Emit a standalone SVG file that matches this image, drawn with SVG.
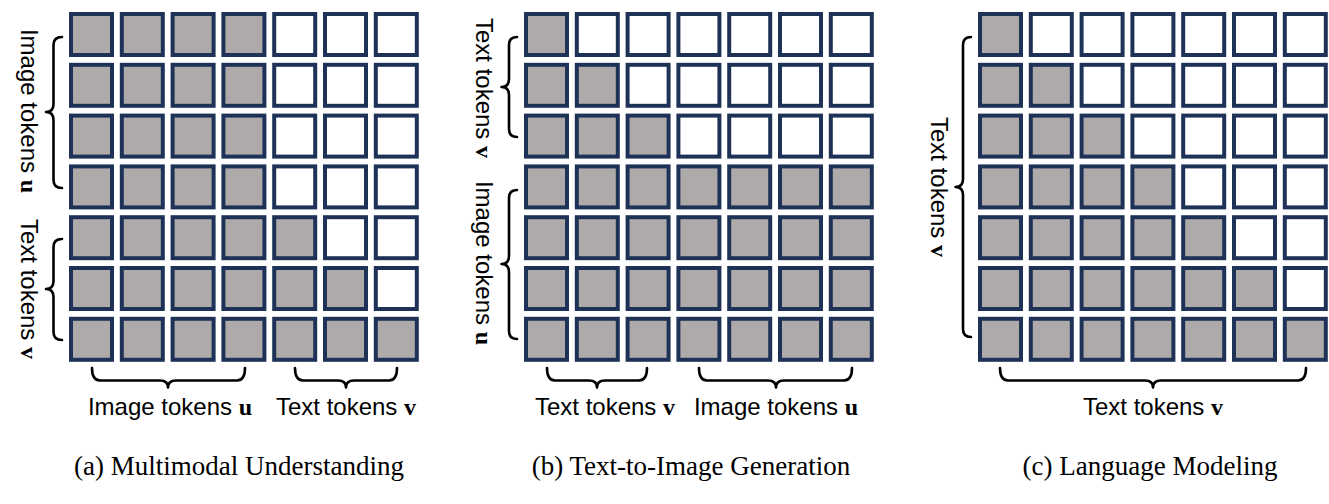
<svg xmlns="http://www.w3.org/2000/svg" xmlns:xlink="http://www.w3.org/1999/xlink" width="1329" height="504" viewBox="0 0 1329 504">
<style>
.g{fill:#AEAAAA;stroke:#1E3258;stroke-width:4}
.w{fill:#FFFFFF;stroke:#1E3258;stroke-width:4}
.br{fill:none;stroke:#000;stroke-width:2.6;stroke-linecap:round;stroke-linejoin:round}
.lb{font-family:"Liberation Sans",Arial,sans-serif;font-size:24px;fill:#000}
.b{font-family:"Liberation Serif","Times New Roman",serif;font-weight:bold}
.cap{font-family:"Liberation Serif","Times New Roman",serif;font-size:27px;fill:#000;text-anchor:middle}
</style>
<defs>
<rect id="c" width="41" height="41"/>
</defs>
<rect width="1329" height="504" fill="#fff"/>

<g id="panel-a">
<g transform="translate(71,14)">
<use href="#c" class="g" x="0" y="0"/><use href="#c" class="g" x="50.8" y="0"/><use href="#c" class="g" x="101.6" y="0"/><use href="#c" class="g" x="152.4" y="0"/><use href="#c" class="w" x="203.2" y="0"/><use href="#c" class="w" x="254" y="0"/><use href="#c" class="w" x="304.8" y="0"/>
<use href="#c" class="g" x="0" y="50.8"/><use href="#c" class="g" x="50.8" y="50.8"/><use href="#c" class="g" x="101.6" y="50.8"/><use href="#c" class="g" x="152.4" y="50.8"/><use href="#c" class="w" x="203.2" y="50.8"/><use href="#c" class="w" x="254" y="50.8"/><use href="#c" class="w" x="304.8" y="50.8"/>
<use href="#c" class="g" x="0" y="101.6"/><use href="#c" class="g" x="50.8" y="101.6"/><use href="#c" class="g" x="101.6" y="101.6"/><use href="#c" class="g" x="152.4" y="101.6"/><use href="#c" class="w" x="203.2" y="101.6"/><use href="#c" class="w" x="254" y="101.6"/><use href="#c" class="w" x="304.8" y="101.6"/>
<use href="#c" class="g" x="0" y="152.4"/><use href="#c" class="g" x="50.8" y="152.4"/><use href="#c" class="g" x="101.6" y="152.4"/><use href="#c" class="g" x="152.4" y="152.4"/><use href="#c" class="w" x="203.2" y="152.4"/><use href="#c" class="w" x="254" y="152.4"/><use href="#c" class="w" x="304.8" y="152.4"/>
<use href="#c" class="g" x="0" y="203.2"/><use href="#c" class="g" x="50.8" y="203.2"/><use href="#c" class="g" x="101.6" y="203.2"/><use href="#c" class="g" x="152.4" y="203.2"/><use href="#c" class="g" x="203.2" y="203.2"/><use href="#c" class="w" x="254" y="203.2"/><use href="#c" class="w" x="304.8" y="203.2"/>
<use href="#c" class="g" x="0" y="254"/><use href="#c" class="g" x="50.8" y="254"/><use href="#c" class="g" x="101.6" y="254"/><use href="#c" class="g" x="152.4" y="254"/><use href="#c" class="g" x="203.2" y="254"/><use href="#c" class="g" x="254" y="254"/><use href="#c" class="w" x="304.8" y="254"/>
<use href="#c" class="g" x="0" y="304.8"/><use href="#c" class="g" x="50.8" y="304.8"/><use href="#c" class="g" x="101.6" y="304.8"/><use href="#c" class="g" x="152.4" y="304.8"/><use href="#c" class="g" x="203.2" y="304.8"/><use href="#c" class="g" x="254" y="304.8"/><use href="#c" class="g" x="304.8" y="304.8"/>
</g>
<text class="lb" text-anchor="middle" transform="translate(21,111) rotate(90)">Image tokens <tspan class="b">u</tspan></text>
<text class="lb" text-anchor="middle" transform="translate(21,289) rotate(90)">Text tokens <tspan class="b">v</tspan></text>
<text class="lb" text-anchor="middle" x="170" y="415">Image tokens <tspan class="b">u</tspan></text>
<text class="lb" text-anchor="middle" x="346" y="415">Text tokens <tspan class="b">v</tspan></text>
<text class="cap" x="239" y="475">(a) Multimodal Understanding</text>
</g>

<g id="panel-b">
<g transform="translate(526,14)">
<use href="#c" class="g" x="0" y="0"/><use href="#c" class="w" x="50.8" y="0"/><use href="#c" class="w" x="101.6" y="0"/><use href="#c" class="w" x="152.4" y="0"/><use href="#c" class="w" x="203.2" y="0"/><use href="#c" class="w" x="254" y="0"/><use href="#c" class="w" x="304.8" y="0"/>
<use href="#c" class="g" x="0" y="50.8"/><use href="#c" class="g" x="50.8" y="50.8"/><use href="#c" class="w" x="101.6" y="50.8"/><use href="#c" class="w" x="152.4" y="50.8"/><use href="#c" class="w" x="203.2" y="50.8"/><use href="#c" class="w" x="254" y="50.8"/><use href="#c" class="w" x="304.8" y="50.8"/>
<use href="#c" class="g" x="0" y="101.6"/><use href="#c" class="g" x="50.8" y="101.6"/><use href="#c" class="g" x="101.6" y="101.6"/><use href="#c" class="w" x="152.4" y="101.6"/><use href="#c" class="w" x="203.2" y="101.6"/><use href="#c" class="w" x="254" y="101.6"/><use href="#c" class="w" x="304.8" y="101.6"/>
<use href="#c" class="g" x="0" y="152.4"/><use href="#c" class="g" x="50.8" y="152.4"/><use href="#c" class="g" x="101.6" y="152.4"/><use href="#c" class="g" x="152.4" y="152.4"/><use href="#c" class="g" x="203.2" y="152.4"/><use href="#c" class="g" x="254" y="152.4"/><use href="#c" class="g" x="304.8" y="152.4"/>
<use href="#c" class="g" x="0" y="203.2"/><use href="#c" class="g" x="50.8" y="203.2"/><use href="#c" class="g" x="101.6" y="203.2"/><use href="#c" class="g" x="152.4" y="203.2"/><use href="#c" class="g" x="203.2" y="203.2"/><use href="#c" class="g" x="254" y="203.2"/><use href="#c" class="g" x="304.8" y="203.2"/>
<use href="#c" class="g" x="0" y="254"/><use href="#c" class="g" x="50.8" y="254"/><use href="#c" class="g" x="101.6" y="254"/><use href="#c" class="g" x="152.4" y="254"/><use href="#c" class="g" x="203.2" y="254"/><use href="#c" class="g" x="254" y="254"/><use href="#c" class="g" x="304.8" y="254"/>
<use href="#c" class="g" x="0" y="304.8"/><use href="#c" class="g" x="50.8" y="304.8"/><use href="#c" class="g" x="101.6" y="304.8"/><use href="#c" class="g" x="152.4" y="304.8"/><use href="#c" class="g" x="203.2" y="304.8"/><use href="#c" class="g" x="254" y="304.8"/><use href="#c" class="g" x="304.8" y="304.8"/>
</g>
<text class="lb" text-anchor="middle" transform="translate(476,88) rotate(90)">Text tokens <tspan class="b">v</tspan></text>
<text class="lb" text-anchor="middle" transform="translate(476,263) rotate(90)">Image tokens <tspan class="b">u</tspan></text>
<text class="lb" text-anchor="middle" x="605" y="415">Text tokens <tspan class="b">v</tspan></text>
<text class="lb" text-anchor="middle" x="776" y="415">Image tokens <tspan class="b">u</tspan></text>
<text class="cap" x="691" y="475">(b) Text-to-Image Generation</text>
</g>

<g id="panel-c">
<g transform="translate(980,14)">
<use href="#c" class="g" x="0" y="0"/><use href="#c" class="w" x="50.8" y="0"/><use href="#c" class="w" x="101.6" y="0"/><use href="#c" class="w" x="152.4" y="0"/><use href="#c" class="w" x="203.2" y="0"/><use href="#c" class="w" x="254" y="0"/><use href="#c" class="w" x="304.8" y="0"/>
<use href="#c" class="g" x="0" y="50.8"/><use href="#c" class="g" x="50.8" y="50.8"/><use href="#c" class="w" x="101.6" y="50.8"/><use href="#c" class="w" x="152.4" y="50.8"/><use href="#c" class="w" x="203.2" y="50.8"/><use href="#c" class="w" x="254" y="50.8"/><use href="#c" class="w" x="304.8" y="50.8"/>
<use href="#c" class="g" x="0" y="101.6"/><use href="#c" class="g" x="50.8" y="101.6"/><use href="#c" class="g" x="101.6" y="101.6"/><use href="#c" class="w" x="152.4" y="101.6"/><use href="#c" class="w" x="203.2" y="101.6"/><use href="#c" class="w" x="254" y="101.6"/><use href="#c" class="w" x="304.8" y="101.6"/>
<use href="#c" class="g" x="0" y="152.4"/><use href="#c" class="g" x="50.8" y="152.4"/><use href="#c" class="g" x="101.6" y="152.4"/><use href="#c" class="g" x="152.4" y="152.4"/><use href="#c" class="w" x="203.2" y="152.4"/><use href="#c" class="w" x="254" y="152.4"/><use href="#c" class="w" x="304.8" y="152.4"/>
<use href="#c" class="g" x="0" y="203.2"/><use href="#c" class="g" x="50.8" y="203.2"/><use href="#c" class="g" x="101.6" y="203.2"/><use href="#c" class="g" x="152.4" y="203.2"/><use href="#c" class="g" x="203.2" y="203.2"/><use href="#c" class="w" x="254" y="203.2"/><use href="#c" class="w" x="304.8" y="203.2"/>
<use href="#c" class="g" x="0" y="254"/><use href="#c" class="g" x="50.8" y="254"/><use href="#c" class="g" x="101.6" y="254"/><use href="#c" class="g" x="152.4" y="254"/><use href="#c" class="g" x="203.2" y="254"/><use href="#c" class="g" x="254" y="254"/><use href="#c" class="w" x="304.8" y="254"/>
<use href="#c" class="g" x="0" y="304.8"/><use href="#c" class="g" x="50.8" y="304.8"/><use href="#c" class="g" x="101.6" y="304.8"/><use href="#c" class="g" x="152.4" y="304.8"/><use href="#c" class="g" x="203.2" y="304.8"/><use href="#c" class="g" x="254" y="304.8"/><use href="#c" class="g" x="304.8" y="304.8"/>
</g>
<text class="lb" text-anchor="middle" transform="translate(931,187) rotate(90)">Text tokens <tspan class="b">v</tspan></text>
<text class="lb" text-anchor="middle" x="1153" y="415">Text tokens <tspan class="b">v</tspan></text>
<text class="cap" x="1150" y="475">(c) Language Modeling</text>
</g>

<g id="connectors">
<path class="br" d="M62,37 Q53.5,37 53.5,45 L53.5,104 Q53.5,112 46,112 Q53.5,112 53.5,120 L53.5,180 Q53.5,188 62,188"/>
<path class="br" d="M62,239 Q53.5,239 53.5,247 L53.5,281 Q53.5,289 46,289 Q53.5,289 53.5,297 L53.5,332 Q53.5,340 62,340"/>
<path class="br" d="M517,37 Q509,37 509,45 L509,79 Q509,87 501.5,87 Q509,87 509,95 L509,129 Q509,137 517,137"/>
<path class="br" d="M517,190 Q509,190 509,198 L509,256 Q509,264 501.5,264 Q509,264 509,272 L509,331 Q509,339 517,339"/>
<path class="br" d="M971,37 Q963,37 963,45 L963,179 Q963,187 955.5,187 Q963,187 963,195 L963,329 Q963,337 971,337"/>
<path class="br" d="M92,368 Q92,380.5 100,380.5 L160,380.5 Q168,380.5 168,387.5 Q168,380.5 176,380.5 L237,380.5 Q245,380.5 245,368"/>
<path class="br" d="M295,368 Q295,380.5 303,380.5 L338,380.5 Q346,380.5 346,387.5 Q346,380.5 354,380.5 L389,380.5 Q397,380.5 397,368"/>
<path class="br" d="M547,368 Q547,380.5 555,380.5 L589,380.5 Q597,380.5 597,387.5 Q597,380.5 605,380.5 L639,380.5 Q647,380.5 647,368"/>
<path class="br" d="M699,368 Q699,380.5 707,380.5 L768,380.5 Q776,380.5 776,387.5 Q776,380.5 784,380.5 L844,380.5 Q852,380.5 852,368"/>
<path class="br" d="M1000,368 Q1000,380.5 1008,380.5 L1145,380.5 Q1153,380.5 1153,387.5 Q1153,380.5 1161,380.5 L1298,380.5 Q1306,380.5 1306,368"/>
</g>
</svg>
